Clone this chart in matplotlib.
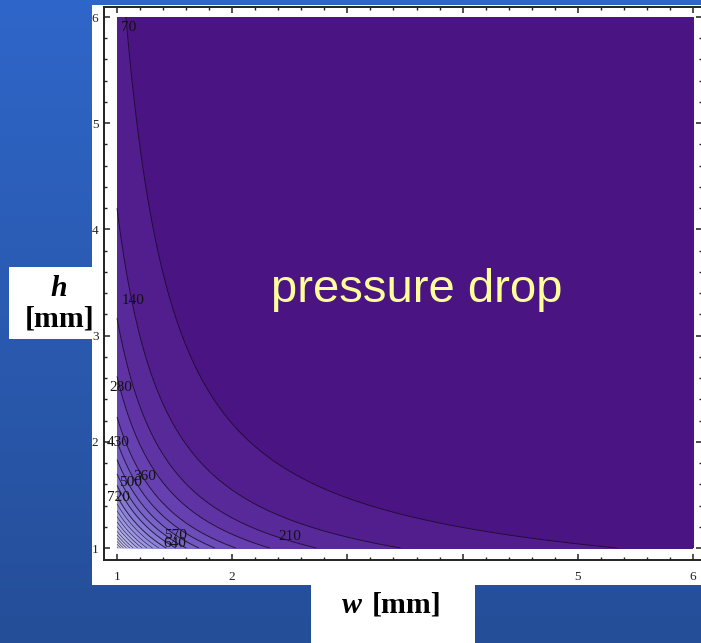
import numpy as np
import matplotlib
matplotlib.use('Agg')
import matplotlib.pyplot as plt
from matplotlib.colors import LinearSegmentedColormap
from matplotlib.patches import Rectangle
from matplotlib.ticker import MultipleLocator

# channel width / height range [mm]
w_range = [1, 6]
h_range = [1, 6]

# pressure drop model: dp = coef * (w + h)^2 / (w^a * h^b)
dp_coef = 383.6
w_exp = 3.22
h_exp = 3.0

# contour levels and the labels shown on them
contour_levels = [70, 140, 210, 280, 360, 430, 500, 570, 640, 720, 790, 860,
                  930, 1000, 1070, 1150, 1220, 1290, 1360, 1430, 1500]
label_values = [70, 140, 280, 430, 360, 500, 720, 570, 640, 210]
label_w = [1.10, 1.14, 1.035, 1.01, 1.243, 1.113, 1.01, 1.504, 1.504, 2.496]
label_h = [5.90, 3.335, 2.507, 1.989, 1.678, 1.621, 1.48, 1.122, 1.047, 1.113]

W_PX, H_PX = 701, 643


def fx(px):
    return px / W_PX


def fy(py):
    return 1 - py / H_PX


fig = plt.figure(figsize=(W_PX / 100, H_PX / 100), dpi=100)

# slide background: vertical blue gradient
bg = fig.add_axes([0, 0, 1, 1], zorder=-10)
grad = np.linspace(0, 1, 256)[:, None]
bg_cmap = LinearSegmentedColormap.from_list('slide', ['#2F66C9', '#254E98'])
bg.imshow(grad, aspect='auto', cmap=bg_cmap, extent=[0, 1, 0, 1])
bg.axis('off')

# white panel behind the plot
fig.patches.append(Rectangle((fx(92), fy(585)), fx(701) - fx(92), fy(5) - fy(585),
                             transform=fig.transFigure, facecolor='white',
                             edgecolor='none', zorder=-5))

ax = fig.add_axes([fx(104), fy(559.5), fx(702) - fx(104), fy(6.5) - fy(559.5)])
ax.set_facecolor('white')

w = np.linspace(w_range[0], w_range[1], 500)
h = np.linspace(h_range[0], h_range[1], 500)
W, H = np.meshgrid(w, h)
dp = dp_coef * (W + H) ** 2 / (W ** w_exp * H ** h_exp)

cmap = LinearSegmentedColormap.from_list('purple', [
    (0.0, '#48107E'), (0.05, '#4F1A8A'), (0.1, '#572797'), (0.18, '#6338AB'),
    (0.3, '#7259C2'), (0.45, '#877DD6'), (0.65, '#A6A6E8'), (1.0, '#E2E2F7')])
bounds = [0] + contour_levels + [dp.max() + 1]
ax.contourf(W, H, dp, levels=bounds, cmap=cmap, vmin=0, vmax=1550)
line_widths = [0.7 if lv <= 720 else 0.45 for lv in contour_levels]
ax.contour(W, H, dp, levels=contour_levels, colors='#1A0828',
           linewidths=line_widths, alpha=0.85)

for val, lw_, lh_ in zip(label_values, label_w, label_h):
    ax.text(lw_, lh_, str(val), fontsize=11, family='Liberation Serif',
            ha='center', va='center', color='#111111')

ax.set_xlim(0.887, 6.078)
ax.set_ylim(0.892, 6.099)
ax.xaxis.set_minor_locator(MultipleLocator(0.2))
ax.yaxis.set_minor_locator(MultipleLocator(0.2))
ax.set_xticks([1, 2, 3, 4, 5, 6])
ax.set_yticks([1, 2, 3, 4, 5, 6])
ax.tick_params(which='both', direction='in', top=True, right=True,
               colors='#222222', labelsize=9.5)
ax.tick_params(which='major', length=4, width=1.1)
ax.tick_params(which='minor', length=2, width=1)
ax.tick_params(axis='x', pad=8)
ax.tick_params(axis='y', pad=4)
for lab in ax.get_xticklabels() + ax.get_yticklabels():
    lab.set_family('Liberation Serif')
for sp in ax.spines.values():
    sp.set_color('#222222')
    sp.set_linewidth(1.4)

fig.text(fx(417), fy(302), 'pressure drop', fontsize=34, family='Liberation Sans',
         color='#FFFF99', ha='center', va='baseline')

# axis title boxes
fig.patches.append(Rectangle((fx(9), fy(339)), fx(92) - fx(9), fy(267) - fy(339),
                             transform=fig.transFigure, facecolor='white',
                             edgecolor='none', zorder=5))
fig.patches.append(Rectangle((fx(311), fy(643)), fx(475) - fx(311), fy(571) - fy(643),
                             transform=fig.transFigure, facecolor='white',
                             edgecolor='none', zorder=5))
fig.text(fx(59), fy(296), 'h', fontsize=21.5, family='Liberation Serif',
         weight='bold', style='italic', ha='center', va='baseline', zorder=6)
fig.text(fx(60), fy(327), '[mm]', fontsize=21.5, family='Liberation Serif',
         weight='bold', ha='center', va='baseline', zorder=6)
fig.text(fx(342), fy(613), 'w', fontsize=21.5, family='Liberation Serif',
         weight='bold', style='italic', ha='left', va='baseline', zorder=6)
fig.text(fx(372), fy(613), '[mm]', fontsize=21.5, family='Liberation Serif',
         weight='bold', ha='left', va='baseline', zorder=6)

fig.savefig('out.png', dpi=100)
